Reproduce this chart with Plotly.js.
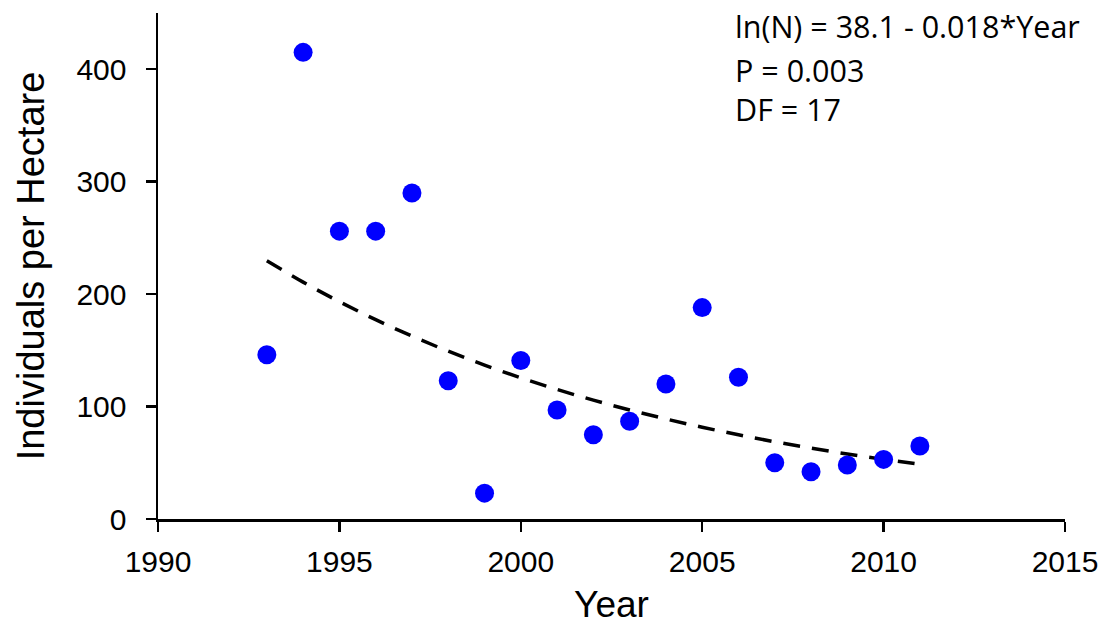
<!DOCTYPE html>
<html>
<head>
<meta charset="utf-8">
<script src="https://cdn.plot.ly/plotly-3.0.1.min.js"></script>
<style>
  html, body { margin: 0; padding: 0; background: #fff; }
  #chart { width: 1109px; height: 627px; }
</style>
</head>
<body>
<div id="chart"></div>
<script>
// Survey years and densities (individuals per hectare)
const years = [1993, 1994, 1995, 1996, 1997, 1998, 1999, 2000, 2001, 2002,
               2003, 2004, 2005, 2006, 2007, 2008, 2009, 2010, 2011];
const density = [146, 415, 256, 256, 290, 123, 23, 141, 97, 75,
                 87, 120, 188, 126, 50, 42, 48, 53, 65];

// Regression summary printed in the corner
const statLines = ["ln(N) = 38.1 - 0.018*Year", "P = 0.003", "DF = 17"];

// Exponential trend: least-squares fit of ln(N) against year
function logLinearFit(xs, ys) {
  const n = xs.length;
  const ly = ys.map(v => Math.log(v));
  const mx = xs.reduce((a, b) => a + b, 0) / n;
  const my = ly.reduce((a, b) => a + b, 0) / n;
  let sxy = 0, sxx = 0;
  for (let i = 0; i < n; i++) {
    sxy += (xs[i] - mx) * (ly[i] - my);
    sxx += (xs[i] - mx) * (xs[i] - mx);
  }
  const b = sxy / sxx;
  const a = my - b * mx;
  return x => Math.exp(a + b * x);
}
const fit = logLinearFit(years, density);
const trendY = years.map(fit);

const traces = [
  {
    x: years, y: trendY, type: 'scatter', mode: 'lines',
    line: { color: '#000', width: 3.5, dash: '17px,12px', shape: 'spline' },
    hoverinfo: 'skip'
  },
  {
    x: years, y: density, type: 'scatter', mode: 'markers',
    marker: { color: '#0000FF', size: 19, line: { width: 0 } }
  }
];

const font = "Liberation Sans, Arial, sans-serif";
const axisCommon = {
  showgrid: false, zeroline: false,
  showline: true, linecolor: '#000', linewidth: 2.5,
  ticks: 'outside', ticklen: 10, tickwidth: 2.5, tickcolor: '#000',
  tickfont: { family: font, size: 30, color: '#000' }
};

// three stacked lines of the regression summary
const statY = [0.975, 0.887, 0.811];
const annotations = statLines.map((t, i) => ({
  xref: 'paper', yref: 'paper',
  x: 0.634, y: statY[i],
  xanchor: 'left', yanchor: 'middle',
  text: t, showarrow: false,
  font: { family: "Open Sans, Noto Sans, sans-serif", size: 30.5, color: '#000' }
}));

const layout = {
  width: 1109, height: 627,
  margin: { l: 158, r: 44, t: 13, b: 108 },
  paper_bgcolor: '#fff', plot_bgcolor: '#fff',
  showlegend: false,
  xaxis: Object.assign({}, axisCommon, {
    range: [1990, 2015], tick0: 1990, dtick: 5,
    ticklabelstandoff: 4,
    title: { text: 'Year', font: { family: font, size: 37, color: '#000' }, standoff: 15 }
  }),
  yaxis: Object.assign({}, axisCommon, {
    range: [0, 450], tickvals: [0, 100, 200, 300, 400],
    ticklabelstandoff: 13,
    title: { text: 'Individuals per Hectare', font: { family: font, size: 38, color: '#000' }, standoff: 20 }
  }),
  annotations: annotations
};

Plotly.newPlot('chart', traces, layout, { staticPlot: true });
</script>
</body>
</html>
